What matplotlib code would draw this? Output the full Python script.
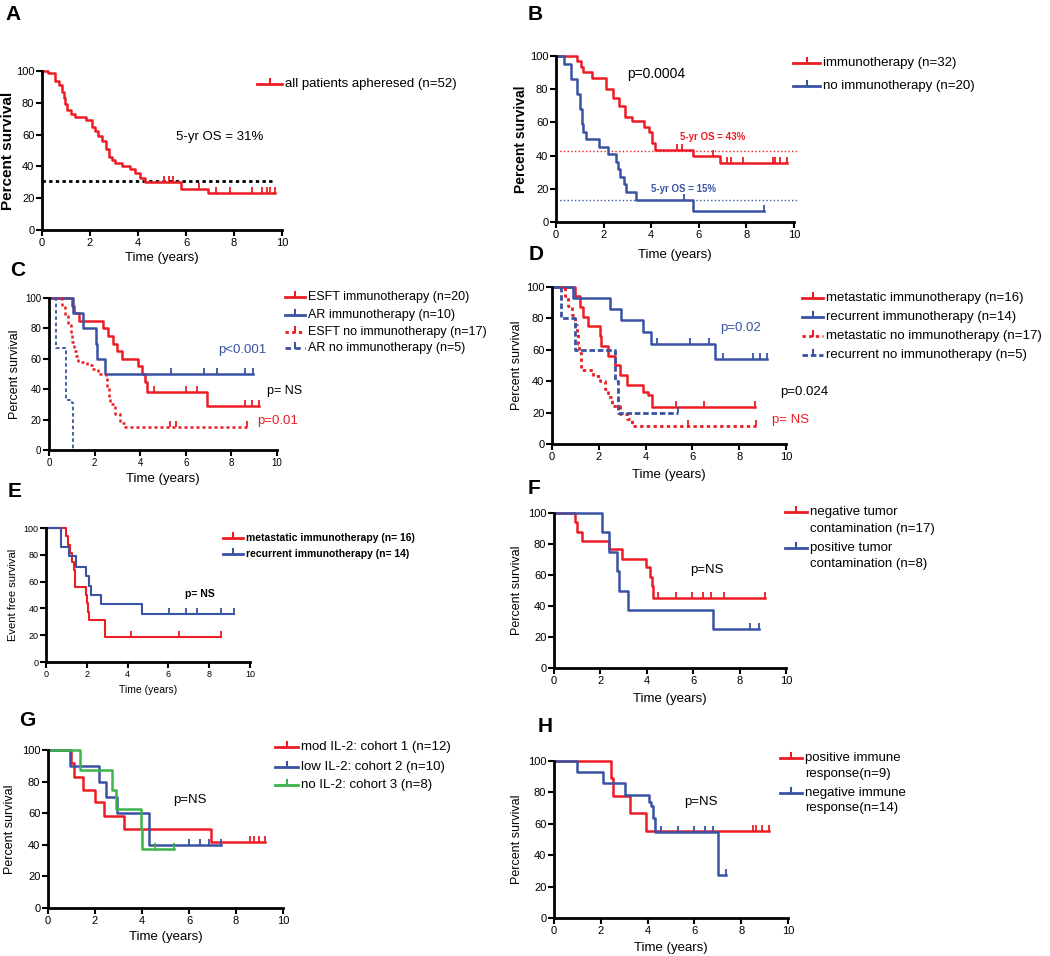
import matplotlib
matplotlib.use('Agg')
import matplotlib.pyplot as plt
from matplotlib.lines import Line2D
import numpy as np

plt.rcParams['font.family'] = ['Liberation Sans', 'DejaVu Sans']

RED = '#ed1c24'
BLUE = '#3953a4'
GREEN = '#3ab54a'

# Kaplan-Meier curves:
# *_t = times of each step (years), *_s = survival after the step (%),
# *_end = last follow-up, *_cens = censored times

# A - all patients
a_t = [0, 0.24, 0.55, 0.7, 0.84, 0.9, 0.97, 1.05, 1.19, 1.39, 1.83, 2.09, 2.2,
       2.35, 2.49, 2.65, 2.79, 2.9, 3.05, 3.33, 3.68, 3.89, 4.1, 4.31, 5.79, 6.91]
a_s = [100, 99, 94, 91, 87, 83, 79, 75.5, 73, 71, 69, 65, 62,
       59, 56, 51, 46, 44, 42, 40, 38.5, 36, 33, 30.5, 26, 23.5]
a_end = 9.72
a_cens = [5.08, 5.3, 5.44, 6.56, 7.26, 7.82, 8.74, 9.16, 9.37, 9.5, 9.72]
a_os = 31

# B - immunotherapy vs none
b1_t = [0, 0.9, 1.05, 1.15, 1.5, 2.1, 2.4, 2.66, 2.9, 3.2, 3.7, 3.9, 4.05, 4.16, 5.77, 6.9]
b1_s = [100, 97, 93.5, 90.5, 87, 80, 74.5, 70, 63, 61, 57.5, 54, 47.5, 43.5, 40, 35.5]
b1_end = 9.7
b1_cens = [5.1, 5.3, 6.6, 7.2, 7.35, 7.85, 9.1, 9.2, 9.4, 9.7]
b2_t = [0, 0.35, 0.63, 0.87, 1.0, 1.1, 1.15, 1.25, 1.8, 2.2, 2.5, 2.6, 2.7, 2.85, 2.95, 3.35, 5.77]
b2_s = [100, 95, 86, 77, 68, 59, 54, 50, 45, 41, 36, 32, 27, 23, 18, 13.5, 6.5]
b2_end = 8.75
b2_cens = [5.38, 8.75]
b_os = [43, 13]

# C - ESFT / AR
c1_t = [0, 1.0, 1.1, 1.32, 2.36, 2.6, 2.8, 3.0, 3.2, 3.9, 4.1, 4.2, 4.29, 6.95]
c1_s = [100, 95, 90, 85, 80, 75, 70, 65, 60, 55, 50, 45, 38, 29]
c1_end = 9.2
c1_cens = [4.6, 6.0, 6.5, 8.6, 8.9, 9.2]
c2_t = [0, 1.07, 1.48, 2.05, 2.1, 2.46]
c2_s = [100, 90, 80, 70, 60, 50]
c2_end = 8.93
c2_cens = [5.34, 6.78, 7.36, 8.6, 8.93]
c3_t = [0, 0.55, 0.7, 0.85, 0.95, 1.0, 1.1, 1.2, 1.29, 1.65, 1.87, 2.17, 2.5, 2.56, 2.62, 2.68, 2.9, 3.12, 3.34]
c3_s = [100, 94, 88, 82, 76, 71, 65, 62, 58, 56, 53, 50, 47, 41, 35, 30, 24, 18, 15]
c3_end = 8.68
c3_cens = [5.3, 5.55, 8.68]
c4_t = [0, 0.3, 0.75, 1.0, 1.07]
c4_s = [100, 67, 33, 31, 0]
c4_end = 1.07
c4_cens = []

# D - metastatic / recurrent
d1_t = [0, 1.0, 1.19, 1.33, 1.54, 2.04, 2.1, 2.4, 2.7, 2.9, 3.2, 3.9, 4.1, 4.29]
d1_s = [100, 94, 87.5, 81, 75, 69, 62.5, 56, 50, 44, 37.5, 33, 31, 23.5]
d1_end = 8.69
d1_cens = [5.3, 6.5, 8.69]
d2_t = [0, 0.9, 2.47, 2.97, 3.9, 4.25, 6.97]
d2_s = [100, 93, 86, 79, 71.5, 64, 54]
d2_end = 9.2
d2_cens = [4.5, 5.9, 6.7, 7.3, 8.6, 8.9, 9.2]
d3_t = [0, 0.54, 0.7, 0.85, 0.97, 1.05, 1.1, 1.15, 1.25, 1.75, 2.05, 2.25, 2.4, 2.55, 2.9, 3.2, 3.4]
d3_s = [100, 94, 88, 82, 76, 70, 64, 58, 47, 43, 40, 35, 30, 24.5, 19, 16, 11.5]
d3_end = 8.7
d3_cens = [5.8, 8.7]
d4_t = [0, 0.4, 1.0, 2.69, 2.8]
d4_s = [100, 80, 60, 40, 20]
d4_end = 5.37
d4_cens = [5.37]

# E - event free survival
e1_t = [0, 1.0, 1.1, 1.2, 1.27, 1.35, 1.4, 1.44, 1.97, 2.03, 2.06, 2.09, 2.87]
e1_s = [100, 94, 87.5, 81, 75, 69, 62.5, 56, 50, 44, 37.5, 31, 19]
e1_end = 8.6
e1_cens = [4.18, 6.54, 8.6]
e2_t = [0, 0.75, 1.11, 1.48, 1.97, 2.09, 2.2, 2.7, 4.73]
e2_s = [100, 86, 79, 71, 64, 57, 50, 43, 36]
e2_end = 9.23
e2_cens = [6.04, 6.85, 7.42, 8.56, 9.23]

# F - tumor contamination
f1_t = [0, 0.89, 0.97, 1.22, 2.38, 2.94, 3.96, 4.14, 4.24, 4.28]
f1_s = [100, 94, 88, 82, 76.5, 70.5, 65, 59, 53, 45]
f1_end = 9.1
f1_cens = [4.47, 5.26, 5.94, 6.41, 6.76, 7.31, 9.1]
f2_t = [0, 2.09, 2.38, 2.72, 2.8, 3.2, 6.87]
f2_s = [100, 87.5, 75, 62.5, 50, 37.5, 25]
f2_end = 8.82
f2_cens = [8.46, 8.82]

# G - IL-2 cohorts
g1_t = [0, 0.96, 1.09, 1.49, 2.01, 2.38, 3.23, 6.95]
g1_s = [100, 91.5, 83, 75, 67, 58, 50, 42]
g1_end = 9.25
g1_cens = [8.58, 8.75, 8.98, 9.25]
g2_t = [0, 0.92, 2.16, 2.48, 2.94, 4.3]
g2_s = [100, 90, 80, 70, 60, 40]
g2_end = 7.38
g2_cens = [5.99, 6.48, 6.85, 7.38]
g3_t = [0, 1.35, 2.72, 2.91, 3.95, 4.01]
g3_s = [100, 87.5, 75, 62.5, 50, 37.5]
g3_end = 5.35
g3_cens = [4.57, 5.35]

# H - immune response
h1_t = [0, 2.45, 2.52, 3.26, 3.92]
h1_s = [100, 89, 78, 67, 55.5]
h1_end = 9.19
h1_cens = [8.5, 8.65, 8.9, 9.19]
h2_t = [0, 1.0, 2.09, 3.03, 4.05, 4.15, 4.25, 4.3, 7.0]
h2_s = [100, 93, 86, 78.5, 74, 71.5, 64, 55, 27.5]
h2_end = 7.36
h2_cens = [4.56, 5.3, 5.98, 6.47, 6.79, 7.36]

W, H = 1050, 956
fig = plt.figure(figsize=(W / 100, H / 100), dpi=100)


def panel(l, t, r, b, ylab, ylab_x, xlab_y, tick_fs=8, ylab_fs=9, xlab_fs=9.5, bold=False):
    ax = fig.add_axes([l / W, 1 - b / H, (r - l) / W, (b - t) / H])
    ax.patch.set_visible(False)
    ax.set_xlim(0, 10)
    ax.set_ylim(0, 100)
    ax.set_xticks(np.arange(0, 11, 2))
    ax.set_yticks(np.arange(0, 101, 20))
    for sp in ['top', 'right']:
        ax.spines[sp].set_visible(False)
    for sp in ['left', 'bottom']:
        ax.spines[sp].set_linewidth(2)
    ax.tick_params(width=1.5, length=4, labelsize=tick_fs, pad=1.5)
    ax.set_ylabel(ylab, fontsize=ylab_fs, weight='bold' if bold else 'normal', va='center')
    ax.yaxis.set_label_coords((ylab_x - l) / (r - l), 0.5)
    ax.set_xlabel('Time (years)', fontsize=xlab_fs, va='center')
    ax.xaxis.set_label_coords(0.5, (b - xlab_y) / (b - t))
    return ax


def km(ax, t, s, end, cens, color, ls='-', lw=1.8):
    tt = np.array(list(t) + [end])
    ss = np.array(list(s) + [s[-1]])
    ax.plot(tt, ss, drawstyle='steps-post', color=color, ls=ls, lw=lw, clip_on=False)
    if len(cens):
        idx = np.searchsorted(tt, cens, side='right') - 1
        ax.plot(cens, ss[idx], ls='none', marker=2, ms=4.5, mew=1.3, color=color, clip_on=False)


def key(x0, x1, y, color, ls, label, fs, dy=17, weight='normal'):
    fig.add_artist(Line2D([x0 / W, x1 / W], [1 - y / H, 1 - y / H], color=color, lw=2, ls=ls))
    xm = (x0 + x1) / 2
    fig.add_artist(Line2D([xm / W, xm / W], [1 - y / H, 1 - (y - 5) / H], color=color, lw=1.5))
    for i, line in enumerate(label.split('\n')):
        fig.text((x1 + 3) / W, 1 - (y + i * dy) / H, line, fontsize=fs, va='center', weight=weight)


def letter(x, y, s):
    fig.text(x / W, 1 - y / H, s, fontsize=15, weight='bold', ha='center', va='center')


DOT = (0, (1.2, 1.2))

# ---- A ----
ax = panel(42, 71, 282, 230, 'Percent survival', 8, 258, ylab_fs=11, bold=True)
ax.plot([0, 9.72], [a_os, a_os], color='black', lw=2, ls=DOT)
km(ax, a_t, a_s, a_end, a_cens, RED)
ax.text(7.4, 58.5, '5-yr OS = 31%', fontsize=9.5, ha='center', va='center')
key(257, 282, 84, RED, '-', 'all patients apheresed (n=52)', 9.5)
letter(13, 14, 'A')

# ---- B ----
ax = panel(556, 56, 794, 222, 'Percent survival', 521, 255, ylab_fs=10, bold=True)
ax.plot([0, 10.2], [b_os[0], b_os[0]], color=RED, lw=1, ls=':', clip_on=False)
ax.plot([0, 10.2], [b_os[1], b_os[1]], color=BLUE, lw=1, ls=':', clip_on=False)
km(ax, b1_t, b1_s, b1_end, b1_cens, RED)
km(ax, b2_t, b2_s, b2_end, b2_cens, BLUE)
ax.text(3.0, 89, 'p=0.0004', fontsize=10, va='center')
ax.text(6.6, 51.5, '5-yr OS = 43%', fontsize=7, ha='center', va='center', color=RED, weight='bold')
ax.text(5.35, 19.8, '5-yr OS = 15%', fontsize=7, ha='center', va='center', color=BLUE, weight='bold')
key(793, 820, 63, RED, '-', 'immunotherapy (n=32)', 9.5)
key(793, 820, 86, BLUE, '-', 'no immunotherapy (n=20)', 9.5)
letter(535, 15, 'B')

# ---- C ----
ax = panel(49, 298, 277, 450, 'Percent survival', 15, 479, tick_fs=7)
km(ax, c1_t, c1_s, c1_end, c1_cens, RED)
km(ax, c2_t, c2_s, c2_end, c2_cens, BLUE)
km(ax, c3_t, c3_s, c3_end, c3_cens, RED, ls=DOT, lw=1.8)
km(ax, c4_t, c4_s, c4_end, c4_cens, BLUE, ls=(0, (2, 1.5)), lw=1.3)
ax.text(7.44, 66, 'p<0.001', fontsize=9.5, color=BLUE, va='center')
ax.text(9.56, 39, 'p= NS', fontsize=9, va='center')
ax.text(9.12, 19.3, 'p=0.01', fontsize=9.5, color=RED, va='center')
key(285, 305, 297, RED, '-', 'ESFT immunotherapy (n=20)', 9)
key(285, 305, 315, BLUE, '-', 'AR immunotherapy (n=10)', 9)
key(285, 305, 332, RED, DOT, 'ESFT no immunotherapy (n=17)', 9)
key(285, 305, 348, BLUE, (0, (2, 1.5)), 'AR no immunotherapy (n=5)', 9)
letter(18, 270, 'C')

# ---- D ----
ax = panel(552, 287, 786, 444, 'Percent survival', 517, 475)
km(ax, d1_t, d1_s, d1_end, d1_cens, RED)
km(ax, d2_t, d2_s, d2_end, d2_cens, BLUE)
km(ax, d3_t, d3_s, d3_end, d3_cens, RED, ls=DOT, lw=2)
km(ax, d4_t, d4_s, d4_end, d4_cens, BLUE, ls=(0, (2, 1)), lw=2)
ax.text(7.19, 74, 'p=0.02', fontsize=9.5, color=BLUE, va='center')
ax.text(9.76, 33.3, 'p=0.024', fontsize=9.5, va='center')
ax.text(9.4, 15.1, 'p= NS', fontsize=9.5, color=RED, va='center')
key(802, 823, 298, RED, '-', 'metastatic immunotherapy (n=16)', 9.5)
key(802, 823, 317, BLUE, '-', 'recurrent immunotherapy (n=14)', 9.5)
key(802, 823, 336, RED, DOT, 'metastatic no immunotherapy (n=17)', 9.5)
key(802, 823, 355, BLUE, (0, (2, 1)), 'recurrent no immunotherapy (n=5)', 9.5)
letter(536, 255, 'D')

# ---- E ----
ax = panel(46, 528, 250, 662, 'Event free survival', 13, 690, tick_fs=6.5, ylab_fs=8, xlab_fs=7.5)
km(ax, e1_t, e1_s, e1_end, e1_cens, RED, lw=1.5)
km(ax, e2_t, e2_s, e2_end, e2_cens, BLUE, lw=1.5)
ax.text(6.82, 51, 'p= NS', fontsize=7.5, va='center', weight='bold')
key(223, 243, 538, RED, '-', 'metastatic immunotherapy (n= 16)', 7.5, weight='bold')
key(223, 243, 554, BLUE, '-', 'recurrent immunotherapy (n= 14)', 7.5, weight='bold')
letter(15, 492, 'E')

# ---- F ----
ax = panel(554, 513, 786, 668, 'Percent survival', 517, 699)
km(ax, f1_t, f1_s, f1_end, f1_cens, RED)
km(ax, f2_t, f2_s, f2_end, f2_cens, BLUE)
ax.text(5.86, 63, 'p=NS', fontsize=9.5, va='center')
key(785, 807, 512, RED, '-', 'negative tumor\ncontamination (n=17)', 9.5)
key(785, 807, 548, BLUE, '-', 'positive tumor\ncontamination (n=8)', 9.5, dy=16)
letter(534, 489, 'F')

# ---- G ----
ax = panel(48, 750, 283, 908, 'Percent survival', 10, 937)
km(ax, g1_t, g1_s, g1_end, g1_cens, RED)
km(ax, g2_t, g2_s, g2_end, g2_cens, BLUE)
km(ax, g3_t, g3_s, g3_end, g3_cens, GREEN)
ax.text(5.32, 68.3, 'p=NS', fontsize=9.5, va='center')
key(275, 298, 747, RED, '-', 'mod IL-2: cohort 1 (n=12)', 9.5)
key(275, 298, 767, BLUE, '-', 'low IL-2: cohort 2 (n=10)', 9.5)
key(275, 298, 785, GREEN, '-', 'no IL-2: cohort 3 (n=8)', 9.5)
letter(27, 720, 'G')

# ---- H ----
ax = panel(554, 761, 788, 918, 'Percent survival', 517, 948)
km(ax, h1_t, h1_s, h1_end, h1_cens, RED)
km(ax, h2_t, h2_s, h2_end, h2_cens, BLUE)
ax.text(5.58, 74, 'p=NS', fontsize=9.5, va='center')
key(780, 802, 758, RED, '-', 'positive immune\nresponse(n=9)', 9.5, dy=16)
key(780, 802, 793, BLUE, '-', 'negative immune\nresponse(n=14)', 9.5, dy=15)
letter(545, 727, 'H')

fig.savefig('out.png', dpi=100)
